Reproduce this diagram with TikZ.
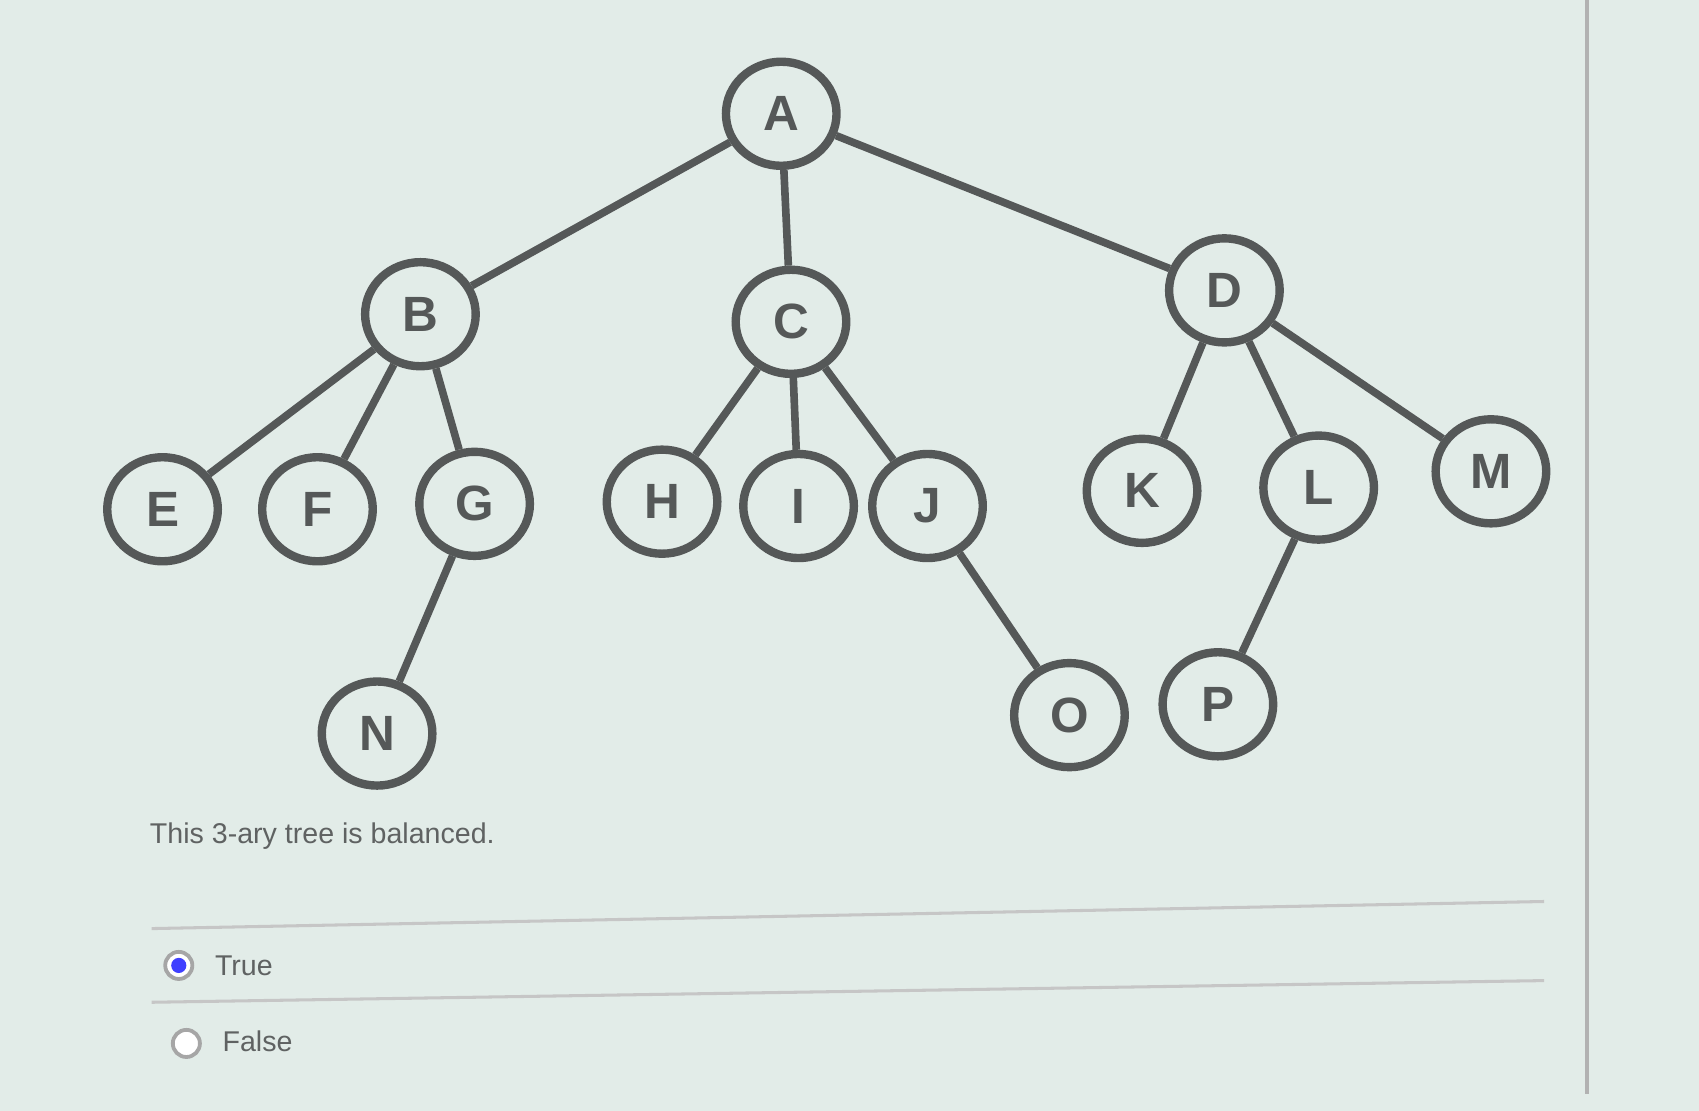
\documentclass[tikz,border=0pt]{standalone}
\usepackage{fontspec}
\setmainfont{Liberation Sans}
\usetikzlibrary{shapes.geometric}
\definecolor{bg}{RGB}{226,236,232}
\definecolor{ln}{RGB}{85,88,88}
\definecolor{txt}{RGB}{95,98,98}
\begin{document}
\begin{tikzpicture}[x=0.01cm,y=-0.01cm,
  tn/.style={ellipse,draw=ln,line width=2.2pt,fill=bg,minimum width=1.02cm,minimum height=0.96cm,inner sep=0pt,font=\bfseries\fontsize{13}{13}\selectfont,text=ln},
  ed/.style={draw=ln,line width=2pt}]
\fill[bg] (0,0) rectangle (1568,1025);
\useasboundingbox (0,0) rectangle (1568,1025);
\draw[gray!60,line width=1pt] (1465,0) -- (1465,1010);
\foreach \n/\x/\y in {A/721/105,B/388/290,C/730/297,D/1130/268,E/150/470,F/293/470,G/438/465,H/611/463,I/737/467,J/856/467,K/1054/453,L/1217/450,M/1376/435,N/348/677,O/987/660,P/1124/650}
  \node[tn] (\n) at (\x,\y) {\n};
\foreach \a/\b in {A/B,A/C,A/D,B/E,B/F,B/G,C/H,C/I,C/J,D/K,D/L,D/M,G/N,J/O,L/P}
  \draw[ed] (\a) -- (\b);
\node[anchor=west,font=\fontsize{7.5}{7.5}\selectfont,text=txt] (q) at (126,772) {This 3-ary tree is balanced.};
\draw[gray!45,line width=0.8pt] (140,857) -- (1425,832);
\draw[gray!45,line width=0.8pt] (140,925) -- (1425,905);
\node[circle,draw=gray!70,line width=1pt,fill=white,minimum size=0.25cm,inner sep=0pt] (r1) at (165,891) {};
\node[circle,fill=blue!75!white,minimum size=0.14cm,inner sep=0pt] (r1d) at (165,891) {};
\node[anchor=west,font=\fontsize{7.5}{7.5}\selectfont,text=txt] (t) at (186,891) {True};
\node[circle,draw=gray!70,line width=1pt,fill=white,minimum size=0.25cm,inner sep=0pt] (r2) at (172,963) {};
\node[anchor=west,font=\fontsize{7.5}{7.5}\selectfont,text=txt] (f) at (193,961) {False};
\end{tikzpicture}
\end{document}
